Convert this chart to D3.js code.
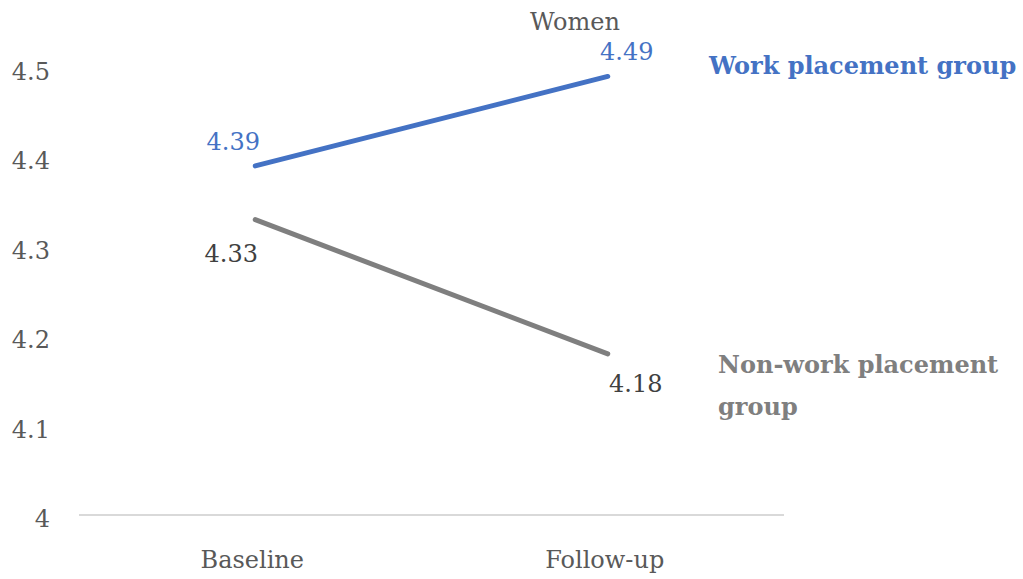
<!DOCTYPE html>
<html lang="en">
<head>
<meta charset="UTF-8">
<title>Women</title>
<script src="https://d3js.org/d3.v7.min.js"></script>
<style>
    body { margin: 0; background: #fff; }
    svg text { font-family: "DejaVu Serif", "Liberation Serif", serif; }
    .tick-label { font-size: 24px; fill: #595959; }
    .series-name { font-size: 24px; font-weight: bold; }
</style>
</head>
<body>
<svg id="chart"></svg>
<script>
    const categories = ["Baseline", "Follow-up"];
    const workValues = [4.39, 4.49];
    const nonWorkValues = [4.33, 4.18];
    const yTicks = [4, 4.1, 4.2, 4.3, 4.4, 4.5];
    const title = "Women";

    const width = 1023, height = 579;
    const svg = d3.select("#chart").attr("width", width).attr("height", height);

    const x = d3.scaleBand().domain(categories).range([79, 784]);
    const y = d3.scaleLinear().domain([4, 4.5]).range([515, 67.5]);
    const cx = d => x(d) + x.bandwidth() / 2;

    // baseline gridline
    svg.append("line")
        .attr("x1", 79).attr("x2", 784)
        .attr("y1", y(4)).attr("y2", y(4))
        .attr("stroke", "#d9d9d9").attr("stroke-width", 2);

    // y tick labels
    svg.append("g").selectAll("text")
        .data(yTicks)
        .join("text")
        .attr("class", "tick-label")
        .attr("x", 50)
        .attr("y", d => y(d) + 12)
        .attr("text-anchor", "end")
        .text(d => d3.format(".1~f")(d));

    // x labels
    svg.append("g").selectAll("text")
        .data(categories)
        .join("text")
        .attr("class", "tick-label")
        .attr("x", d => cx(d) - 3)
        .attr("y", 568)
        .attr("text-anchor", "middle")
        .text(d => d);

    const series = [
        { values: workValues, color: "#4472c4", labelColor: "#4472c4", offsets: [[-22, -16], [19, -16]] },
        { values: nonWorkValues, color: "#7f7f7f", labelColor: "#404040", offsets: [[-24, 42], [28, 38]] }
    ];

    const line = d3.line().x((d, i) => cx(categories[i])).y(d => y(d));

    series.forEach(s => {
        svg.append("path")
            .datum(s.values)
            .attr("d", line)
            .attr("fill", "none")
            .attr("stroke", s.color)
            .attr("stroke-width", 5)
            .attr("stroke-linecap", "round");

        svg.append("g").selectAll("text")
            .data(s.values)
            .join("text")
            .attr("class", "tick-label")
            .attr("x", (d, i) => cx(categories[i]) + s.offsets[i][0])
            .attr("y", (d, i) => y(d) + s.offsets[i][1])
            .attr("text-anchor", "middle")
            .style("fill", s.labelColor)
            .text(d => d3.format(".2f")(d));
    });

    // chart title
    svg.append("text")
        .attr("class", "tick-label")
        .attr("x", 575).attr("y", 30)
        .attr("text-anchor", "middle")
        .text(title);

    // series names
    svg.append("text")
        .attr("class", "series-name")
        .attr("x", 709).attr("y", 74)
        .attr("fill", "#4472c4")
        .text("Work placement group");

    const nw = svg.append("text")
        .attr("class", "series-name")
        .attr("x", 718).attr("y", 373)
        .attr("fill", "#7f7f7f");
    nw.append("tspan").attr("x", 718).text("Non-work placement");
    nw.append("tspan").attr("x", 718).attr("dy", 42).text("group");
</script>
</body>
</html>
